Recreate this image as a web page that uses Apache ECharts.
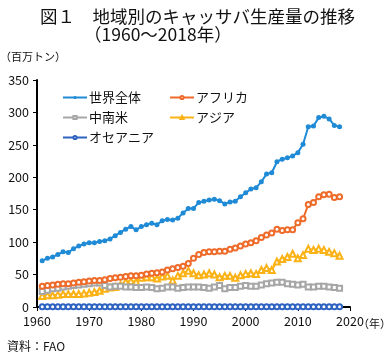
<!DOCTYPE html>
<html><head><meta charset="utf-8">
<script src="https://cdn.jsdelivr.net/npm/echarts@6/dist/echarts.min.js"></script>
<style>html,body{margin:0;padding:0;background:#fff}#c{width:391px;height:355px}</style>
</head><body><div id="c"></div>
<script>
const years = [];
for (let y = 1961; y <= 2018; y++) years.push(y);
const xTicks = [1960, 1970, 1980, 1990, 2000, 2010, 2020];
const yTicks = [0, 50, 100, 150, 200, 250, 300, 350];
const seriesNames = ['世界全体', 'アフリカ', '中南米', 'アジア', 'オセアニア'];
const world = [71.5,75,77,81,85,84,90,94,97,99,99,101,102,105,110,115,120,124,119,124,127,129,127,133,135,134,137,145,152,152,161,163,165,166,164,159,162,163,170,176,182,184,193,205,207,224,228,230,233,238,251,278,279,292,294,290,280,278];
const africa = [32,33,34,35,36,36,37,38,39,40,41,41,42,44,45,46,47,48,48,49,51,52,53,54,57,59,61,63,67,75,81,84,85,85,86,86,89,91,94,97,99,102,107,111,114,120,118,119,119,130,136,158,161,170,173,174,169,170];
const latam = [24,26,28,29,31,32,33,34,35,36,37,37,33,31,32,32,31,31,30,30,31,30,28,29,31,31,29,30,31,31,31,30,29,31,33,28,30,30,32,33,32,32,34,36,37,38,38,36,35,34,35,31,31,32,32,31,30,29];
const asia = [17,18,18,19,20,20,20,20,21,22,23,25,28,30,31,34,39,40,39,45,46,46,44,47,48,41,48,52,56,52,49,50,52,50,46,48,48,45,49,51,52,51,57,60,57,70,74,77,82,75,80,90,88,90,88,85,83,79];
const oceania = [0.2,0.2,0.2,0.2,0.2,0.2,0.2,0.2,0.2,0.2,0.2,0.2,0.2,0.2,0.2,0.2,0.2,0.2,0.2,0.2,0.2,0.2,0.2,0.2,0.2,0.2,0.2,0.2,0.2,0.2,0.2,0.2,0.2,0.2,0.2,0.2,0.2,0.2,0.2,0.2,0.2,0.2,0.2,0.2,0.2,0.2,0.2,0.2,0.2,0.2,0.2,0.2,0.2,0.2,0.2,0.2,0.2,0.2];

const FONT = '"Noto Sans CJK JP", "Noto Sans", sans-serif';
const pair = arr => arr.map((v, i) => [years[i], v]);
const colors = ['#1f8ad6', '#ee6b2a', '#a6a6a6', '#fbb216', '#2e62c1'];
const symbols = ['circle', 'emptyCircle', 'emptyRect', 'emptyTriangle', 'emptyCircle'];
const sizes = [5, 5, 5, 6, 5];
const values = [world, africa, latam, asia, oceania];

const chart = echarts.init(document.getElementById('c'));
chart.setOption({
  animation: false,
  textStyle: { fontFamily: FONT },
  title: [
    { text: '図１　地域別のキャッサバ生産量の推移', left: 35, top: 3, textStyle: { fontFamily: FONT, fontSize: 17.5, fontWeight: 'normal', color: '#111' } },
    { text: '（1960～2018年）', left: 79, top: 21, textStyle: { fontFamily: FONT, fontSize: 17.5, fontWeight: 'normal', color: '#111' } }
  ],
  legend: [
    { left: 57, top: 86, orient: 'vertical', itemGap: 7, itemWidth: 24, itemHeight: 4,
      data: [seriesNames[0], seriesNames[2], seriesNames[4]],
      textStyle: { fontFamily: FONT, fontSize: 13, color: '#111', padding: [0, 0, 0, -3] } },
    { left: 164, top: 86, orient: 'vertical', itemGap: 7, itemWidth: 24, itemHeight: 4,
      data: [seriesNames[1], seriesNames[3]],
      textStyle: { fontFamily: FONT, fontSize: 13, color: '#111', padding: [0, 0, 0, -3] } }
  ],
  grid: { left: 37, right: 41, top: 80, bottom: 48 },
  xAxis: {
    type: 'value', min: xTicks[0], max: xTicks[xTicks.length - 1], interval: 10,
    axisLine: { lineStyle: { color: '#000', width: 2 } },
    axisTick: { show: true, length: 4, lineStyle: { color: '#000', width: 1 } },
    splitLine: { show: false },
    axisLabel: { fontFamily: FONT, fontSize: 12.5, color: '#111', margin: 8, formatter: v => String(v) }
  },
  yAxis: {
    type: 'value', min: yTicks[0], max: yTicks[yTicks.length - 1], interval: 50,
    axisLine: { show: true, lineStyle: { color: '#000', width: 2 } },
    axisTick: { show: true, length: 4, lineStyle: { color: '#000', width: 1 } },
    splitLine: { show: false },
    axisLabel: { fontFamily: FONT, fontSize: 12.5, color: '#111', margin: 8 }
  },
  graphic: [
    { type: 'text', left: 0, top: 51, style: { text: '（百万トン）', font: '11px ' + FONT, fill: '#111' } },
    { type: 'text', left: 358, top: 318, style: { text: '（年）', font: '11px ' + FONT, fill: '#111' } },
    { type: 'text', left: 7, top: 340, style: { text: '資料：FAO', font: '12px ' + FONT, fill: '#111' } }
  ],
  series: seriesNames.map((n, i) => ({
    name: n, type: 'line', data: pair(values[i]),
    symbol: symbols[i], symbolSize: sizes[i], showAllSymbol: true,
    itemStyle: { color: colors[i], borderWidth: 1 },
    lineStyle: { color: colors[i], width: 2 },
    z: 10 - i
  }))
});
</script></body></html>
